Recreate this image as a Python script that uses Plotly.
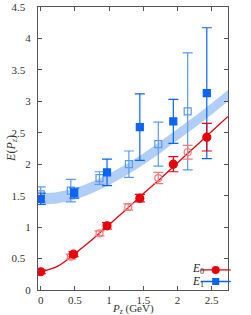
import plotly.graph_objects as go

# E0 filled (red)
e0_x = [0.0, 0.48, 0.97, 1.45, 1.94, 2.43]
e0_y = [0.29, 0.57, 1.02, 1.46, 2.00, 2.43]
e0_err = [0.03, 0.04, 0.05, 0.06, 0.12, 0.22]
# E0 open (light red)
e0o_x = [0.44, 0.86, 1.28, 1.72, 2.15]
e0o_y = [0.53, 0.90, 1.32, 1.78, 2.19]
e0o_err = [0.04, 0.04, 0.05, 0.09, 0.11]
# E1 filled (blue)
e1_x = [0.0, 0.49, 0.97, 1.45, 1.94, 2.43]
e1_y = [1.45, 1.54, 1.87, 2.59, 2.68, 3.13]
e1_err = [0.09, 0.08, 0.21, 0.53, 0.35, 1.04]
# E1 open (light blue)
e1o_x = [0.0, 0.44, 0.86, 1.29, 1.72, 2.15]
e1o_y = [1.52, 1.58, 1.78, 2.00, 2.32, 2.84]
e1o_err = [0.12, 0.18, 0.10, 0.21, 0.35, 0.93]
# fitted curves
curve_x = [0.0, 0.25, 0.5, 0.75, 1.0, 1.25, 1.5, 1.75, 2.0, 2.25, 2.5, 2.74]
red_curve_y = [0.29, 0.38, 0.58, 0.80, 1.04, 1.28, 1.53, 1.77, 2.02, 2.27, 2.52, 2.76]
band_mid_y = [1.45, 1.47, 1.53, 1.63, 1.76, 1.91, 2.08, 2.27, 2.47, 2.67, 2.88, 3.09]
band_half = [0.09, 0.09, 0.09, 0.09, 0.09, 0.09, 0.09, 0.09, 0.09, 0.09, 0.09, 0.09]
x_ticks = [0, 0.5, 1, 1.5, 2, 2.5]
x_tick_labels = ["0", "0.5", "1", "1.5", "2", "2.5"]
y_ticks = [0, 0.5, 1, 1.5, 2, 2.5, 3, 3.5, 4, 4.5]
y_tick_labels = ["0", "0.5", "1", "1.5", "2", "2.5", "3", "3.5", "4", "4.5"]

RED = "#e8000b"
LRED = "#f07a7a"
BLUE = "#0a64f5"
LBLUE = "#5a9bf0"
BAND = "rgba(150,190,245,0.75)"
FONT = "Liberation Serif"

fig = go.Figure()
fig.add_trace(go.Scatter(x=curve_x, y=[m + h for m, h in zip(band_mid_y, band_half)],
                         mode="lines", line=dict(width=0, shape="spline"), showlegend=False, hoverinfo="skip"))
fig.add_trace(go.Scatter(x=curve_x, y=[m - h for m, h in zip(band_mid_y, band_half)],
                         mode="lines", line=dict(width=0, shape="spline"), fill="tonexty",
                         fillcolor=BAND, showlegend=False, hoverinfo="skip"))
fig.add_trace(go.Scatter(x=curve_x, y=red_curve_y, mode="lines",
                         line=dict(color=RED, width=1.3, shape="spline"), showlegend=False))

def pts(x, y, err, color, symbol, size):
    fig.add_trace(go.Scatter(x=x, y=y, mode="markers",
                             error_y=dict(type="data", array=err, color=color, thickness=1.2, width=5),
                             marker=dict(color=color, symbol=symbol, size=size,
                                         line=dict(color=color, width=1.2)),
                             showlegend=False))

pts(e1o_x, e1o_y, e1o_err, LBLUE, "square-open", 7)
pts(e1_x, e1_y, e1_err, BLUE, "square", 7)
pts(e0o_x, e0o_y, e0o_err, LRED, "circle-open", 7)
pts(e0_x, e0_y, e0_err, RED, "circle", 8)

# legend entries (symbols only, text as annotations)
fig.add_trace(go.Scatter(x=[None], y=[None], mode="lines+markers", name=" ", legend="legend",
                         line=dict(color=RED, width=1.3), marker=dict(color=RED, symbol="circle", size=8)))
fig.add_trace(go.Scatter(x=[None], y=[None], mode="lines+markers", name=" ", legend="legend2",
                         line=dict(color=BLUE, width=1.3), marker=dict(color=BLUE, symbol="square", size=7)))

axis_common = dict(showline=True, linecolor="#555", linewidth=1, mirror="ticks", ticks="inside",
                   ticklen=4, tickcolor="#555", showgrid=False, zeroline=False, automargin=False,
                   tickfont=dict(family=FONT, size=11, color="#333"))
leg_common = dict(xanchor="left", yanchor="middle", bgcolor="rgba(0,0,0,0)",
                  font=dict(family=FONT, size=10), itemwidth=30)
fig.update_layout(
    width=251, height=315,
    margin=dict(l=38, r=11, t=7, b=25),
    plot_bgcolor="white", paper_bgcolor="white",
    xaxis=dict(range=[-0.04, 2.74], tickvals=x_ticks, ticktext=x_tick_labels, **axis_common),
    yaxis=dict(range=[0, 4.5], tickvals=y_ticks,
               ticktext=[t if "." not in t else t + "\u00a0\u00a0" for t in y_tick_labels],
               ticklabelstandoff=4, **axis_common),
    showlegend=True,
    legend=dict(x=0.83, y=0.071, **leg_common),
    legend2=dict(x=0.83, y=0.03, **leg_common),
    annotations=[
        dict(text="<i>P</i><sub><i>z</i></sub> (GeV)", xref="paper", yref="paper", x=0.5, y=-0.067,
             xanchor="center", yanchor="middle", showarrow=False, font=dict(family=FONT, size=11, color="#333")),
        dict(text="<i>E</i>(<i>P</i><sub><i>z</i></sub>)", xref="paper", yref="paper", x=-0.14, y=0.5,
             textangle=-90, xanchor="center", yanchor="middle", showarrow=False,
             font=dict(family=FONT, size=12, color="#333")),
        dict(text="<i>E</i><sub>0</sub>", xref="paper", yref="paper", x=0.885, y=0.073,
             xanchor="right", yanchor="middle", showarrow=False, font=dict(family=FONT, size=11.5, color="#222")),
        dict(text="<i>E</i><sub>1</sub>", xref="paper", yref="paper", x=0.885, y=0.03,
             xanchor="right", yanchor="middle", showarrow=False, font=dict(family=FONT, size=11.5, color="#222")),
    ],
)
fig.write_html("out.html", config={"displayModeBar": False},
               post_script="document.body.style.margin='0';")
